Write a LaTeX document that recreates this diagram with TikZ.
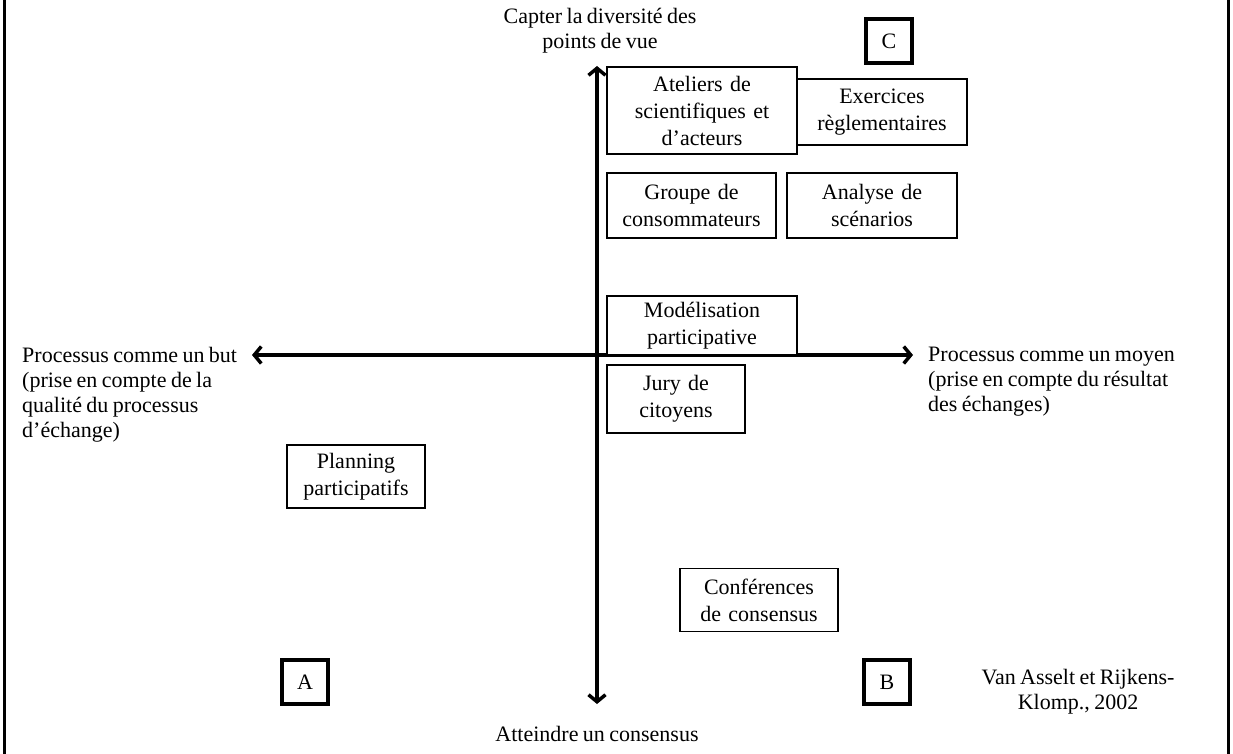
\documentclass[tikz,border=0pt]{standalone}
\usepackage{fontspec}
\setmainfont{Liberation Serif}[WordSpace=0.8]
\usetikzlibrary{arrows.meta}
\begin{document}
\begin{tikzpicture}[x=1pt,y=-1pt,
  txt/.style={inner sep=0pt, font=\fontsize{22}{25}\selectfont},
  box/.style={draw, line width=1.6pt, inner sep=0pt, align=center, font=\fontsize{22}{27}\selectfont},
  lbox/.style={draw, line width=4.5pt, inner sep=0pt, minimum width=46pt, minimum height=44pt, font=\fontsize{22}{26}\selectfont},
  axis/.style={line width=3.5pt, {Straight Barb[length=7pt,width=17pt]}-{Straight Barb[length=7pt,width=17pt]}},
  frame/.style={line width=3pt}]
\useasboundingbox (0,0) rectangle (1233,754);
\fill[white] (0,0) rectangle (1233,754);
\draw[frame] (4,0) -- (4,754);
\draw[frame] (1228,0) -- (1228,754);

% axes
\coordinate (top) at (597,66);
\coordinate (bot) at (597,704);
\coordinate (lft) at (252,355);
\coordinate (rgt) at (913,355);
\draw[axis] (bot) -- (top);
\draw[axis] (lft) -- (rgt);

% axis labels
\node[txt, align=center] (tl) at (600,31) {Capter la diversité des\\points de vue};
\node[txt] (bl) at (597,734) {Atteindre un consensus};
\node[txt, align=left, anchor=north west] (ll) at (22,347) {Processus comme un but\\(prise en compte de la\\qualité du processus\\d’échange)};
\node[txt, align=left, anchor=north west] (rl) at (928,347) {Processus comme un moyen\\(prise en compte du résultat\\des échanges)};

% quadrant letters
\node[lbox] (C) at (889,41) {C};
\node[lbox] (A) at (305,682) {A};
\node[lbox] (B) at (887,682) {B};

% boxes
\node[box, text width=170pt, minimum height=66pt, fill=white] (exer) at (882,112) {Exercices\\règlementaires};
\node[box, text width=190pt, minimum height=87pt, fill=white] (atel) at (702,110.5) {Ateliers de\\scientifiques et\\d’acteurs};
\node[box, text width=169pt, minimum height=65pt] (grp) at (691.5,205.5) {Groupe de\\consommateurs};
\node[box, text width=170pt, minimum height=65pt] (ana) at (872,205.5) {Analyse de\\scénarios};
\node[box, text width=190pt, minimum height=59pt, fill=white] (mod) at (702,325.5) {Modélisation\\participative};
\node[box, text width=138pt, minimum height=68pt] (jury) at (676,399) {Jury de\\citoyens};
\node[box, text width=138pt, minimum height=63pt] (plan) at (356,476.5) {Planning\\participatifs};
\node[box, text width=158pt, minimum height=63pt] (conf) at (759,600) {Conférences\\de consensus};

% source
\node[txt, align=center] (src) at (1078,692) {Van Asselt et Rijkens-\\Klomp., 2002};
\end{tikzpicture}
\end{document}
